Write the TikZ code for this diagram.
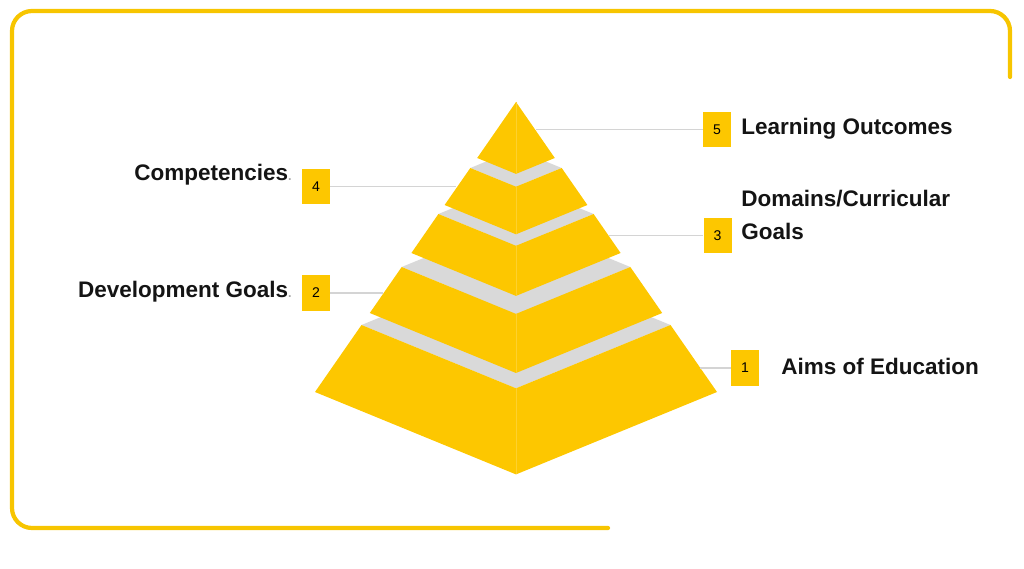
\documentclass[tikz,border=0pt]{standalone}
\usepackage{fontspec}
\setmainfont{Liberation Sans}
\definecolor{pyr}{RGB}{253,199,0}
\definecolor{band}{RGB}{217,217,217}
\definecolor{frame}{RGB}{247,197,0}
\definecolor{leadgray}{RGB}{212,212,212}
\tikzset{
  numbox/.style={fill=pyr,minimum width=0.7cm,minimum height=0.875cm,inner sep=0pt,font=\fontsize{10}{12}\selectfont},
  title/.style={font=\fontsize{16}{24}\selectfont\bfseries,inner sep=0pt,text=black!92},
  leader/.style={draw=leadgray,line width=0.8pt},
  seam/.style={draw=pyr!82!white,line width=0.25pt}
}
\begin{document}
\begin{tikzpicture}[x=0.025cm,y=-0.025cm]
\useasboundingbox (0,0) rectangle (1024,569);
% frame
\draw[frame,line width=3pt,line cap=round,rounded corners=0.5cm] (1010,77) -- (1010,11) -- (12,11) -- (12,528) -- (608,528);
% tier 1
\fill[band] (361.5,325) -- (516,261.7) -- (670.5,325) -- (516,388.3) -- cycle;
\fill[pyr] (361.5,325) -- (516,388.3) -- (670.5,325) -- (717,392) -- (516,474.4) -- (315,392) -- cycle;
\draw[seam] (516,388.3) -- (516,474.4);
% tier 2
\fill[band] (401.7,267) -- (516,220.1) -- (630.3,267) -- (516,313.9) -- cycle;
\fill[pyr] (401.7,267) -- (516,313.9) -- (630.3,267) -- (662.2,313) -- (516,373) -- (369.8,313) -- cycle;
\draw[seam] (516,313.9) -- (516,373);
% tier 3
\fill[band] (438.4,214) -- (516,182.2) -- (593.6,214) -- (516,245.8) -- cycle;
\fill[pyr] (438.4,214) -- (516,245.8) -- (593.6,214) -- (620.6,253) -- (516,295.9) -- (411.4,253) -- cycle;
\draw[seam] (516,245.8) -- (516,295.9);
% tier 4
\fill[band] (470.3,168) -- (516,149.3) -- (561.7,168) -- (516,186.7) -- cycle;
\fill[pyr] (470.3,168) -- (516,186.7) -- (561.7,168) -- (587.4,205) -- (516,234.3) -- (444.6,205) -- cycle;
\draw[seam] (516,186.7) -- (516,234.3);
% top
\fill[pyr] (516,102) -- (554.8,158) -- (516,173.9) -- (477.2,158) -- cycle;
\draw[seam] (516,102) -- (516,173.9);
% number boxes
\node[numbox] (n5) at (717,129.5) {5};
\node[numbox] (n4) at (316,186.5) {4};
\node[numbox] (n3) at (717.5,235.5) {3};
\node[numbox] (n2) at (316,293) {2};
\node[numbox] (n1) at (745,368) {1};
% leaders
\coordinate (e5) at (536,129.5);
\coordinate (e4) at (456,186.5);
\coordinate (e3) at (609,235.5);
\coordinate (e2) at (383,293);
\coordinate (e1) at (700,368);
\draw[leader] (e5) -- (n5);
\draw[leader] (n4) -- (e4);
\draw[leader] (e3) -- (n3);
\draw[leader] (n2) -- (e2);
\draw[leader] (e1) -- (n1);
% labels
\node[title,anchor=base west] (t5) at (741,135) {Learning Outcomes};
\node[title,anchor=base west,align=left] (t3) at (741,240) {Domains/Curricular\\Goals};
\node[title,anchor=base west] (t1) at (781,375) {Aims of Education};
\node[title,anchor=base east] (t4) at (292,181) {Competencies{\color{black!35}\fontsize{9}{9}\selectfont.}};
\node[title,anchor=base east] (t2) at (292,298) {Development Goals{\color{black!35}\fontsize{9}{9}\selectfont.}};
\end{tikzpicture}
\end{document}
